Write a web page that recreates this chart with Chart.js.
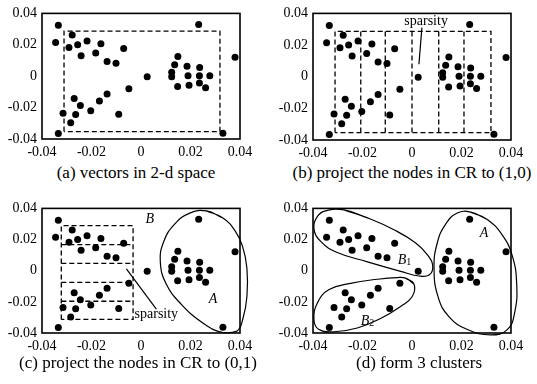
<!DOCTYPE html>
<html>
<head>
<meta charset="utf-8">
<script src="https://cdn.jsdelivr.net/npm/chart.js@4"></script>
<style>
body { margin:0; background:#fff; width:537px; height:384px; overflow:hidden; position:relative; font-family:"Liberation Serif", serif; }
canvas { position:absolute; }
.cap { position:absolute; width:268px; text-align:center; font-size:17px; line-height:20px; color:#000; white-space:nowrap; }
</style>
</head>
<body>
<canvas id="pa" width="268" height="160" style="left:0;top:0"></canvas>
<canvas id="pb" width="266" height="160" style="left:271px;top:0"></canvas>
<canvas id="pc" width="268" height="160" style="left:0;top:195px"></canvas>
<canvas id="pd" width="266" height="160" style="left:271px;top:195px"></canvas>
<div class="cap" style="left:2px;top:163px">(a) vectors in 2-d space</div>
<div class="cap" style="left:278px;top:163px">(b) project the nodes in CR to (1,0)</div>
<div class="cap" style="left:4px;top:353px">(c) project the nodes in CR to (0,1)</div>
<div class="cap" style="left:285px;top:353px">(d) form 3 clusters</div>
<script>
// node vectors, same for all four panels
const px = [-0.0334, -0.0345, -0.0278, -0.0291, -0.0256, -0.0218, -0.0242, -0.0162, -0.0183, -0.0137,
    -0.0101, -0.0070, 0.0025, -0.0049, -0.0270, -0.0137, -0.0168, -0.0245, -0.0203, -0.0315,
    -0.0264, -0.0090, -0.0284, -0.0334, 0.0233, 0.0380, 0.0149, 0.0136, 0.0186, 0.0237,
    0.0124, 0.0124, 0.0190, 0.0236, 0.0278, 0.0148, 0.0194, 0.0236, 0.0261, 0.0331];
const py = [0.0324, 0.0214, 0.0262, 0.0183, 0.0201, 0.0225, 0.0131, 0.0206, 0.0147, 0.0093,
    0.0083, 0.0177, -0.0003, -0.0080, -0.0142, -0.0113, -0.0158, -0.0186, -0.0220, -0.0236,
    -0.0244, -0.0242, -0.0297, -0.0365, 0.0330, 0.0121, 0.0125, 0.0073, 0.0063, 0.0055,
    0.0025, -0.0003, 0.0003, 0.0003, 0.0003, -0.0065, -0.0058, -0.0044, -0.0074, -0.0363];

const ticks = [-0.04, -0.02, 0, 0.02, 0.04];

// dashed region CR (panels a, b)
const crX = [-0.0311, 0.0319];
const crY = [-0.0353, 0.0287];
const cutsX = [-0.0207, -0.0108, 0, 0.0108, 0.0210];   // panel b
// panel c region and cuts
const crcX = [-0.0322, -0.0032];
const crcY = [-0.0313, 0.0289];
const cutsY = [0.0168, 0.0047, -0.0075, -0.0196];

// cluster outlines
const curveAc = [[0.0264,0.0384],[0.0331,0.0339],[0.0379,0.0259],[0.0410,0.0158],[0.0428,0.0016],[0.0428,-0.0166],
    [0.0412,-0.0307],[0.0388,-0.0388],[0.0331,-0.0398],[0.0251,-0.0337],[0.0163,-0.0216],[0.0102,-0.0085],
    [0.0078,0.0057],[0.0092,0.0188],[0.0136,0.0299],[0.0197,0.0370]];
const curveAd = [[0.0237,0.0376],[0.0304,0.0329],[0.0365,0.0228],[0.0405,0.0097],[0.0423,-0.0085],[0.0415,-0.0267],
    [0.0385,-0.0378],[0.0318,-0.0412],[0.0224,-0.0378],[0.0150,-0.0297],[0.0105,-0.0166],[0.0089,0.0016],
    [0.0102,0.0178],[0.0136,0.0299],[0.0183,0.0370]];
const curveB1 = [[-0.0275,0.0390],[-0.0180,0.0339],[-0.0073,0.0263],[0.0015,0.0178],[0.0065,0.0097],[0.0084,0.0026],
    [0.0069,-0.0028],[0.0028,-0.0034],[-0.0046,-0.0004],[-0.0180,0.0057],[-0.0302,0.0117],[-0.0369,0.0188],
    [-0.0396,0.0269],[-0.0382,0.0349],[-0.0349,0.0384]];
const curveB2 = [[-0.0026,-0.0048],[0.0008,-0.0085],[0.0001,-0.0166],[-0.0046,-0.0230],[-0.0127,-0.0307],[-0.0221,-0.0368],
    [-0.0315,-0.0392],[-0.0376,-0.0378],[-0.0396,-0.0317],[-0.0382,-0.0206],[-0.0335,-0.0121],[-0.0248,-0.0081],
    [-0.0140,-0.0055],[-0.0059,-0.0044]];

// labels [text, x, y, align, style]
const notesB = [['sparsity', 0.0057, 0.0352, 'c', '']];
const notesC = [['B', 0.0035, 0.0329, 'c', 'italic '], ['A', 0.0291, -0.0186, 'c', 'italic '], ['sparsity', -0.0026, -0.0283, 'l', '']];
const notesD = [['A', 0.0291, 0.0238, 'c', 'italic '], ['B', -0.0040, 0.0067, 'c', 'italic '], ['1', -0.0013, 0.0055, 'c', 'sub'],
    ['B', -0.0190, -0.0327, 'c', 'italic '], ['2', -0.0163, -0.0340, 'c', 'sub']];
const leadB = [[0.0040, 0.0310], [0.0028, 0.0079]];
const leadC = [[-0.0059, 0.0012], [0.0062, -0.0247]];

function pts() {
    return {
        type: 'scatter',
        data: px.map((x, i) => ({x: x, y: py[i]})),
        pointRadius: 3.5,
        pointBackgroundColor: '#000',
        pointBorderWidth: 0,
    };
}

function line(list, dashed, closed) {
    const d = list.map(p => ({x: p[0], y: p[1]}));
    if (closed) d.push(d[0], d[1]);
    return {
        type: 'scatter',
        data: d,
        showLine: true,
        borderColor: '#000',
        borderWidth: dashed ? 1.3 : 1.2,
        borderDash: dashed ? [5, 3] : [],
        pointRadius: 0,
        tension: closed ? 0.45 : 0,
        clip: false,
    };
}

function rect(xr, yr) {
    return line([[xr[0], yr[0]], [xr[0], yr[1]], [xr[1], yr[1]], [xr[1], yr[0]], [xr[0], yr[0]]], true, false);
}

function makeChart(id, sets, notes, rightPad, topPad, botPad) {
    const tickOpts = {padding: 5, color: '#000', font: {family: 'Liberation Serif', size: 14},
        callback: v => String(parseFloat(v.toFixed(2)))};
    return new Chart(document.getElementById(id), {
        type: 'scatter',
        data: {datasets: sets},
        options: {
            responsive: false,
            animation: false,
            events: [],
            layout: {padding: {left: 0, right: rightPad, top: topPad, bottom: botPad}},
            plugins: {legend: {display: false}, tooltip: {enabled: false}},
            scales: {
                x: {
                    min: -0.04, max: 0.04,
                    afterBuildTicks: s => { s.ticks = ticks.map(v => ({value: v})); },
                    afterFit: s => { s.height = 18; },
                    grid: {display: false, drawTicks: false},
                    border: {display: false},
                    ticks: tickOpts,
                },
                y: {
                    min: -0.04, max: 0.04,
                    afterBuildTicks: s => { s.ticks = ticks.map(v => ({value: v})); },
                    afterFit: s => { s.width = 42; },
                    grid: {display: false, drawTicks: false},
                    border: {display: false},
                    ticks: tickOpts,
                },
            },
        },
        plugins: [{
            id: 'frame',
            afterDraw(c) {
                const a = c.chartArea, ctx = c.ctx;
                ctx.save();
                ctx.strokeStyle = '#000';
                ctx.lineWidth = 1.6;
                ctx.strokeRect(a.left, a.top, a.right - a.left, a.bottom - a.top);
                ctx.fillStyle = '#000';
                ctx.textBaseline = 'middle';
                notes.forEach(n => {
                    const x = c.scales.x.getPixelForValue(n[1]);
                    const y = c.scales.y.getPixelForValue(n[2]);
                    ctx.font = n[4] === 'sub' ? '10px "Liberation Serif"' : n[4] + '14px "Liberation Serif"';
                    ctx.textAlign = n[3] === 'l' ? 'left' : 'center';
                    ctx.fillText(n[0], x, y);
                });
                ctx.restore();
            }
        }]
    });
}

// (a)
makeChart('pa', [pts(), rect(crX, crY)], [], 28, 8, 3);

// (b)
const setsB = [pts(), rect(crX, crY)];
cutsX.forEach(x => setsB.push(line([[x, crY[0]], [x, crY[1]]], true, false)));
setsB.push(line(leadB, false, false));
makeChart('pb', setsB, notesB, 26, 9, 2);

// (c)
const setsC = [pts(), rect(crcX, crcY)];
cutsY.forEach(y => setsC.push(line([[crcX[0], y], [crcX[1], y]], true, false)));
setsC.push(line(leadC, false, false));
setsC.push(line(curveAc, false, true));
makeChart('pc', setsC, notesC, 28, 8, 4);

// (d)
makeChart('pd', [pts(), line(curveAd, false, true), line(curveB1, false, true), line(curveB2, false, true)], notesD, 26, 8, 4);
</script>
</body>
</html>
